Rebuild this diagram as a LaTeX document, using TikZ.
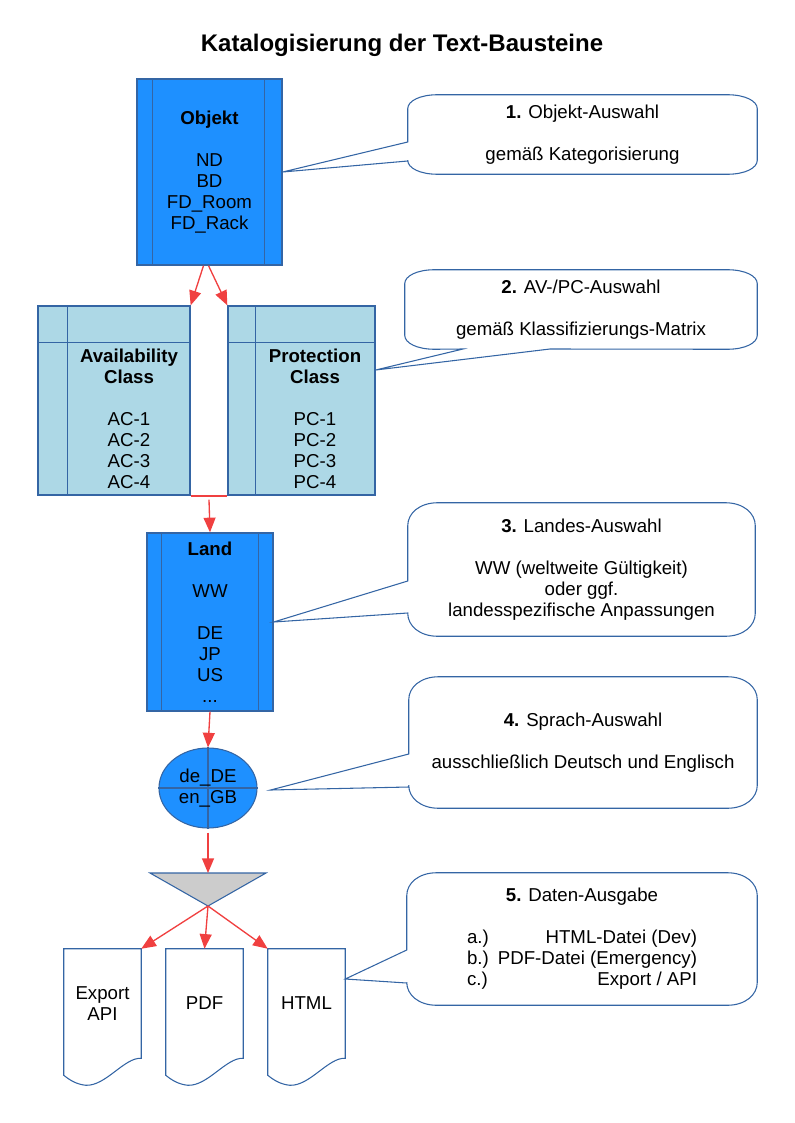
\documentclass[tikz,border=0pt]{standalone}
\usepackage{fontspec}
\setmainfont{Liberation Sans}
\usetikzlibrary{arrows.meta, positioning, calc, shapes.geometric}

\definecolor{lineblue}{HTML}{3465A4}
\definecolor{boxblue}{RGB}{30,144,255}
\definecolor{classblue}{RGB}{173,216,230}
\definecolor{arrowred}{RGB}{240,64,64}
\definecolor{trigray}{RGB}{204,204,204}

\newcommand{\pxu}{0.75pt}

% speech bubble round a node: #1 node, #2 corner height, #3 wedge on left side, #4 wedge on bottom
\newcommand{\bubble}[4]{%
  \draw[bubbleline] ($(#1.north west)+(30,0)$) -- ($(#1.north east)+(-30,0)$)
    .. controls ($(#1.north east)+(-12,0)$) and ($(#1.north east)+(0,0.45*#2)$) .. ($(#1.north east)+(0,#2)$)
    -- ($(#1.south east)+(0,-#2)$)
    .. controls ($(#1.south east)+(0,-0.45*#2)$) and ($(#1.south east)+(-12,0)$) .. ($(#1.south east)+(-30,0)$)
    #4 -- ($(#1.south west)+(30,0)$)
    .. controls ($(#1.south west)+(12,0)$) and ($(#1.south west)+(0,-0.45*#2)$) .. ($(#1.south west)+(0,-#2)$)
    #3 -- ($(#1.north west)+(0,#2)$)
    .. controls ($(#1.north west)+(0,0.45*#2)$) and ($(#1.north west)+(12,0)$) .. cycle;
}

% document symbol with wavy bottom round a node
\newcommand{\docshape}[1]{%
  \draw[docline] (#1.north west) -- (#1.north east) -- (#1.south east)
    .. controls ($(#1.south east)+(-17,-1)$) and ($(#1.south west)+(42,28)$) .. ($(#1.south west)+(22,27)$)
    .. controls ($(#1.south west)+(12,26)$) and ($(#1.south west)+(5,21)$) .. ($(#1.south west)+(0,17)$)
    -- cycle;
}

\begin{document}
\begin{tikzpicture}[x=0.75pt, y=-0.75pt,
  txt/.style={font=\fontsize{14}{15.75}\selectfont, align=center, inner sep=0pt},
  bluebox/.style={txt, draw=lineblue, fill=boxblue, line width=1pt},
  classbox/.style={txt, draw=lineblue, fill=classblue, line width=1pt},
  innerline/.style={draw=lineblue, line width=0.8pt},
  arr/.style={draw=arrowred, line width=1pt, -{Triangle[length=11pt, width=9pt]}},
  redline/.style={draw=arrowred, line width=1.5pt},
  bubbleline/.style={draw=lineblue, line width=0.8pt},
  docline/.style={draw=lineblue, line width=0.8pt},
  docbox/.style={txt, minimum width=77*\pxu, minimum height=109*\pxu}
]
\useasboundingbox (0,0) rectangle (794,1123);

% Title
\node[font=\fontsize{18}{21}\selectfont\bfseries] (title) at (402,45) {Katalogisierung der Text-Bausteine};

% Objekt
\node[bluebox, minimum width=145*\pxu, minimum height=186*\pxu] (objekt) at (209.5,172)
  {\textbf{Objekt}\\[15.75pt]ND\\BD\\FD\_Room\\FD\_Rack};
\draw[innerline] ($(objekt.north west)+(16,0)$) -- ($(objekt.south west)+(16,0)$);
\draw[innerline] ($(objekt.north east)+(-18,0)$) -- ($(objekt.south east)+(-18,0)$);

% Availability / Protection class
\node[classbox, minimum width=152*\pxu, minimum height=189*\pxu] (ac) at (114,400.5) {};
\draw[innerline] ($(ac.north west)+(30,0)$) -- ($(ac.south west)+(30,0)$);
\draw[innerline] ($(ac.north west)+(0,37)$) -- ($(ac.north east)+(0,37)$);
\node[txt] (actext) at (129,419) {\textbf{Availability}\\\textbf{Class}\\[15.75pt]AC-1\\AC-2\\AC-3\\AC-4};

\node[classbox, minimum width=147*\pxu, minimum height=189*\pxu] (pc) at (301.5,400.5) {};
\draw[innerline] ($(pc.north west)+(28,0)$) -- ($(pc.south west)+(28,0)$);
\draw[innerline] ($(pc.north west)+(0,37)$) -- ($(pc.north east)+(0,37)$);
\node[txt] (pctext) at (315,419) {\textbf{Protection}\\\textbf{Class}\\[15.75pt]PC-1\\PC-2\\PC-3\\PC-4};

% Land
\node[bluebox, minimum width=126*\pxu, minimum height=178*\pxu] (land) at (210,622)
  {\textbf{Land}\\[15.75pt]WW\\[15.75pt]DE\\JP\\US\\...};
\draw[innerline] ($(land.north west)+(15,0)$) -- ($(land.south west)+(15,0)$);
\draw[innerline] ($(land.north east)+(-15,0)$) -- ($(land.south east)+(-15,0)$);

% Sprache
\node[ellipse, draw=lineblue, fill=boxblue, line width=0.8pt, minimum width=98*\pxu, minimum height=80*\pxu, inner sep=0pt] (lang) at (208,788) {};
\draw[innerline] (lang.north) -- (lang.south);
\draw[innerline] (lang.west) -- (lang.east);
\node[txt] (langtext) at (lang.center) {de\_DE\\en\_GB};

% Merge triangle
\coordinate (tritop) at (208,873);
\coordinate (apex) at (208,906);
\draw[draw=lineblue, fill=trigray, line width=0.8pt] (150,873) -- (266,873) -- (apex) -- cycle;

% Output documents
\node[docbox] (export) at (102.5,1003.5) {Export\\API};
\node[docbox] (pdf) at (204.5,1003.5) {PDF};
\node[docbox] (html) at (306.5,1003.5) {HTML};
\docshape{export}
\docshape{pdf}
\docshape{html}

% Connectors
\draw[arr] ($(objekt.south)+(-6,0)$) -- (ac.north east);
\draw[arr] ($(objekt.south)+(-1,0)$) -- (pc.north west);
\draw[redline] (ac.south east) -- (pc.south west);
\coordinate (gap) at ($(ac.south east)!0.5!(pc.south west)$);
\draw[arr] ($(gap)+(0,4)$) -- (land.north);
\draw[arr] (land.south) -- (lang.north);
\draw[arr] ($(lang.south)+(0,4)$) -- (tritop);
\draw[arr] (apex) -- (export.north east);
\draw[arr] (apex) -- (pdf.north);
\draw[arr] (apex) -- (html.north west);

% Callouts
\node[txt, minimum width=349*\pxu, minimum height=79*\pxu] (c1) at (582.5,134.5)
  {\textbf{1.} Objekt-Auswahl\\[15.75pt]gemäß Kategorisierung};
\node[txt, minimum width=352*\pxu, minimum height=79*\pxu] (c2) at (581,309.5)
  {\textbf{2.} AV-/PC-Auswahl\\[15.75pt]gemäß Klassifizierungs-Matrix};
\node[txt, minimum width=347*\pxu, minimum height=133*\pxu] (c3) at (581.5,569.5)
  {\textbf{3.} Landes-Auswahl\\[15.75pt]WW (weltweite Gültigkeit)\\oder ggf.\\landesspezifische Anpassungen};
\node[txt, minimum width=348*\pxu, minimum height=131*\pxu] (c4) at (583,742.5)
  {\textbf{4.} Sprach-Auswahl\\[15.75pt]ausschließlich Deutsch und Englisch};
\node[txt, minimum width=350*\pxu, minimum height=132*\pxu] (c5) at (582,939)
  {\textbf{5.} Daten-Ausgabe\\[15.75pt]\makebox[172.5pt]{a.)\hfill HTML-Datei (Dev)}\\\makebox[172.5pt]{b.)\hfill PDF-Datei (Emergency)}\\\makebox[172.5pt]{c.)\hfill Export / API}};

\bubble{c1}{14}{-- (c1.west |- 0,161) -- (objekt.east) -- (c1.west |- 0,142)}{}
\bubble{c2}{14}{}{-- (550,349) -- (pc.east |- 0,370) -- (463,349)}
\bubble{c3}{23}{-- (c3.west |- 0,613) -- (land.east) -- (c3.west |- 0,581)}{}
\bubble{c4}{23}{-- (c4.west |- 0,787) -- ($(lang.east)+(13,2)$) -- (c4.west |- 0,754)}{}
\bubble{c5}{23}{-- (c5.west |- 0,983) -- (html.east |- 0,979) -- (c5.west |- 0,950)}{}
\end{tikzpicture}
\end{document}
